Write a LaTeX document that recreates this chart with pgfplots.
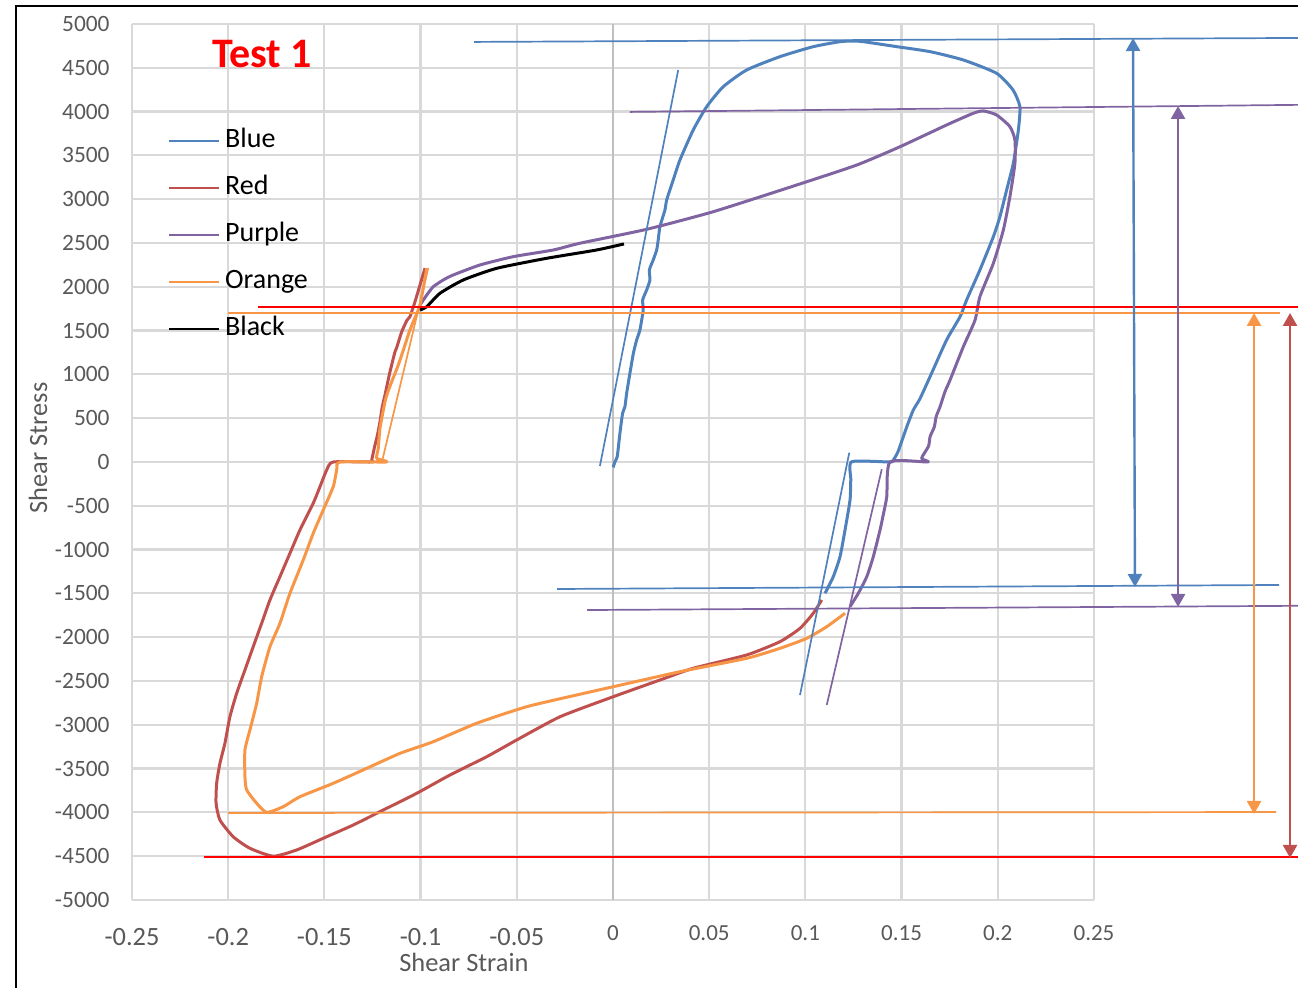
\documentclass[border=0pt]{standalone}
\usepackage{fontspec}
\setmainfont{Carlito}
\usepackage{graphicx}
\usepackage{pgfplots}
\pgfplotsset{compat=1.18}
\usetikzlibrary{arrows.meta}

\definecolor{cBlue}{HTML}{4F81BD}
\definecolor{cRed}{HTML}{C0504D}
\definecolor{cPurple}{HTML}{8064A2}
\definecolor{cOrange}{HTML}{F79646}
\definecolor{brightred}{HTML}{FF0000}
\definecolor{gridgray}{HTML}{D9D9D9}
\definecolor{zerogray}{HTML}{BFBFBF}
\definecolor{labelgray}{HTML}{595959}

% negative strain labels are set a little larger and lower
\newcommand{\negtick}[1]{\raisebox{-1.5pt}[\height][\depth]{\fontsize{13.2}{14}\selectfont #1}}

\tikzset{
  curve/.style={line width=1.5pt, line join=round, smooth, tension=0.35},
  fitline/.style={line width=0.85pt},
  level/.style={line width=0.85pt},
  span/.style={line width=1.2pt, {Triangle[width=7pt,length=6.5pt]}-{Triangle[width=7pt,length=6.5pt]}},
}

\begin{document}
\begin{tikzpicture}
\path[use as bounding box] (-66pt,-44pt) rectangle (583pt,450pt);
\clip (-66pt,-44pt) rectangle (583pt,450pt);
\draw[line width=1pt] (-58pt,-100pt) -- (-58pt,447pt) -- (700pt,447pt);
\begin{axis}[
  at={(0,0)}, anchor=south west,
  scale only axis, width=481pt, height=438pt,
  xmin=-0.25, xmax=0.25, ymin=-5000, ymax=5000,
  clip=false,
  axis line style={draw=none},
  major tick length=0pt,
  grid=major,
  major grid style={line width=1.1pt, color=gridgray},
  xtick={-0.25,-0.2,-0.15,-0.1,-0.05,0,0.05,0.1,0.15,0.2,0.25},
  xticklabels={\negtick{-0.25},\negtick{-0.2},\negtick{-0.15},\negtick{-0.1},\negtick{-0.05},0,0.05,0.1,0.15,0.2,0.25},
  ytick={-5000,-4500,-4000,-3500,-3000,-2500,-2000,-1500,-1000,-500,0,500,1000,1500,2000,2500,3000,3500,4000,4500,5000},
  yticklabels={-5000,-4500,-4000,-3500,-3000,-2500,-2000,-1500,-1000,-500,0,500,1000,1500,2000,2500,3000,3500,4000,4500,5000},
  xticklabel style={anchor=north, inner sep=0pt, yshift=-12.5pt, text=labelgray, font=\fontsize{11.5}{12}\selectfont},
  yticklabel style={anchor=east, inner sep=0pt, xshift=-11pt, text=labelgray, font=\fontsize{11.7}{12}\selectfont},
  xlabel={Shear Strain},
  ylabel={Shear Stress},
  xlabel style={at={(rel axis cs:0.345,-0.0713)}, anchor=center, inner sep=0pt, text=labelgray, font=\fontsize{13.2}{14}\selectfont},
  ylabel style={at={(rel axis cs:-0.0977,0.516)}, anchor=center, inner sep=0pt, text=labelgray, font=\fontsize{13.2}{14}\selectfont},
  legend cell align=left,
  legend image code/.code={\draw[#1, line width=0.9pt] (0pt,0pt) -- (25pt,0pt);},
  legend style={draw=none, fill=none, at={(rel axis cs:0.0374,0.8813)}, anchor=north west,
    font=\fontsize{14}{16}\selectfont, inner sep=0pt, row sep=11pt,
    nodes={inner sep=0pt, text height=9.5pt, text depth=3pt},
    /tikz/every odd column/.append style={column sep=2.5pt}},
]

% strain = 0 axis line
\addplot[zerogray, line width=1.1pt, forget plot] coordinates {(0,-5000) (0,5000)};

% Blue
\addplot[cBlue, curve] coordinates {
(0.0000,-60)(0.0002,-54)(0.0010,3)(0.0022,61)(0.0036,328)(0.0050,556)(0.0062,631)
(0.0071,784)(0.0088,1013)(0.0106,1241)(0.0123,1393)(0.0140,1507)(0.0157,1735)
(0.0154,1849)(0.0175,1964)(0.0192,2078)(0.0189,2192)(0.0209,2306)(0.0227,2420)
(0.0235,2534)(0.0244,2686)(0.0270,2877)(0.0279,2991)(0.0313,3219)(0.0348,3448)
(0.0417,3790)(0.0487,4056)(0.0573,4284)(0.0695,4475)(0.0868,4627)(0.1041,4741)
(0.1180,4798)(0.1250,4805)(0.1301,4798)(0.1475,4741)(0.1648,4684)(0.1821,4589)
(0.1994,4437)(0.2079,4247)(0.2115,4056)(0.2107,3790)(0.2081,3413)(0.2046,3105)
(0.2011,2800)(0.1977,2572)(0.1907,2192)(0.1838,1849)(0.1804,1659)(0.1734,1393)
(0.1648,974)(0.1595,720)(0.1561,594)(0.1530,420)(0.1509,289)(0.1480,110)
(0.1457,23)(0.1440,0)(0.1241,3)(0.1236,-200)(0.1232,-434)(0.1206,-776)
(0.1180,-1081)(0.1145,-1309)(0.1102,-1499)
};
\addlegendentry{Blue}

% Red
\addplot[cRed, curve] coordinates {
(-0.0977,2211)(-0.1003,2021)(-0.1029,1830)(-0.1055,1660)(-0.1070,1620)(-0.1098,1488)
(-0.1125,1300)(-0.1133,1259)(-0.1159,1031)(-0.1172,900)(-0.1185,765)(-0.1200,620)
(-0.1211,460)(-0.1225,300)(-0.1237,194)(-0.1254,23)(-0.1254,0)(-0.1454,0)
(-0.1488,-91)(-0.1523,-282)(-0.1558,-471)(-0.1627,-776)(-0.1679,-1042)(-0.1731,-1309)
(-0.1783,-1575)(-0.1826,-1841)(-0.1870,-2109)(-0.1913,-2375)(-0.1956,-2641)
(-0.1991,-2908)(-0.2017,-3211)(-0.2043,-3440)(-0.2060,-3668)(-0.2063,-3896)
(-0.2043,-4087)(-0.1974,-4278)(-0.1887,-4410)(-0.1766,-4500)(-0.1644,-4429)
(-0.1488,-4278)(-0.1350,-4144)(-0.1194,-3973)(-0.1020,-3782)(-0.0847,-3573)
(-0.0656,-3364)(-0.0501,-3174)(-0.0275,-2908)(0.0002,-2679)(0.0244,-2489)
(0.0417,-2355)(0.0695,-2203)(0.0868,-2051)(0.0972,-1899)(0.1041,-1727)(0.1085,-1575)
};
\addlegendentry{Red}

% Purple
\addplot[cPurple, curve] coordinates {
(-0.1003,1792)(-0.0968,1906)(-0.0934,2001)(-0.0882,2078)(-0.0830,2135)(-0.0691,2249)
(-0.0518,2344)(-0.0310,2420)(-0.0172,2497)(0.0175,2656)(0.0521,2857)(0.0955,3162)
(0.1267,3390)(0.1492,3599)(0.1734,3847)(0.1873,3981)(0.1925,4007)(0.1994,3961)
(0.2063,3828)(0.2089,3676)(0.2089,3410)(0.2063,3029)(0.2029,2649)(0.1977,2268)
(0.1907,1887)(0.1882,1621)(0.1821,1316)(0.1752,936)(0.1725,800)(0.1700,631)
(0.1680,520)(0.1670,400)(0.1648,289)(0.1640,180)(0.1604,42)(0.1637,0)(0.1440,0)
(0.1423,-396)(0.1405,-600)(0.1388,-776)(0.1353,-1081)(0.1319,-1309)(0.1275,-1499)
(0.1232,-1652)
};
\addlegendentry{Purple}

% Orange
\addplot[cOrange, curve] coordinates {
(-0.0968,2211)(-0.1003,1792)(-0.1038,1602)(-0.1060,1480)(-0.1081,1336)(-0.1116,1107)
(-0.1150,917)(-0.1170,800)(-0.1185,688)(-0.1211,385)(-0.1220,156)(-0.1228,42)
(-0.1176,0)(-0.1419,0)(-0.1436,-91)(-0.1454,-282)(-0.1506,-548)(-0.1558,-814)
(-0.1610,-1119)(-0.1679,-1499)(-0.1731,-1841)(-0.1783,-2109)(-0.1826,-2451)
(-0.1852,-2755)(-0.1887,-3059)(-0.1913,-3288)(-0.1913,-3593)(-0.1904,-3744)
(-0.1852,-3896)(-0.1800,-4000)(-0.1714,-3935)(-0.1627,-3821)(-0.1454,-3668)
(-0.1280,-3497)(-0.1107,-3326)(-0.0934,-3193)(-0.0709,-2983)(-0.0449,-2794)
(-0.0189,-2660)(0.0002,-2565)(0.0348,-2394)(0.0695,-2241)(0.0868,-2127)
(0.1007,-2013)(0.1111,-1880)(0.1206,-1727)
};
\addlegendentry{Orange}

% Black
\addplot[black, curve] coordinates {
(-0.1003,1735)(-0.0968,1773)(-0.0899,1926)(-0.0778,2078)(-0.0604,2211)
(-0.0345,2325)(-0.0085,2420)(0.0057,2489)
};
\addlegendentry{Black}

% elastic slope lines
\addplot[cBlue, fitline, forget plot] coordinates {(-0.0068,-46) (0.0339,4475)};
\addplot[cBlue, fitline, forget plot] coordinates {(0.0972,-2660) (0.1228,106)};
\addplot[cPurple, fitline, forget plot] coordinates {(0.1111,-2774) (0.1397,-83)};
\addplot[cOrange, fitline, forget plot] coordinates {(-0.1201,0) (-0.0960,2215)};

% peak stress levels
\addplot[cBlue, level, forget plot] coordinates {(-0.0722,4795) (0.37,4842)};
\addplot[cPurple, level, forget plot] coordinates {(0.0088,3996) (0.37,4080)};
\addplot[brightred, line width=1.1pt, forget plot] coordinates {(-0.1845,1769) (0.37,1769)};
\addplot[cOrange, level, forget plot] coordinates {(-0.2001,1701) (0.3467,1701)};
\addplot[cBlue, level, forget plot] coordinates {(-0.0291,-1450) (0.3462,-1404)};
\addplot[cPurple, level, forget plot] coordinates {(-0.0135,-1690) (0.37,-1640)};
\addplot[cOrange, level, forget plot] coordinates {(-0.2001,-4007) (0.3446,-3996)};
\addplot[brightred, line width=1.1pt, forget plot] coordinates {(-0.2126,-4509) (0.37,-4509)};

% stress ranges
\addplot[cBlue, span, forget plot] coordinates {(0.2703,4840) (0.2713,-1427)};
\addplot[cPurple, span, forget plot] coordinates {(0.2937,4064) (0.2937,-1655)};
\addplot[cOrange, span, forget plot] coordinates {(0.3332,1701) (0.3332,-4018)};
\addplot[cRed, span, forget plot] coordinates {(0.3519,1701) (0.3519,-4520)};

\node[text=brightred, font=\bfseries\fontsize{21}{24}\selectfont] at (axis cs:-0.1824,4658) {Test 1};
\end{axis}
\end{tikzpicture}
\end{document}
